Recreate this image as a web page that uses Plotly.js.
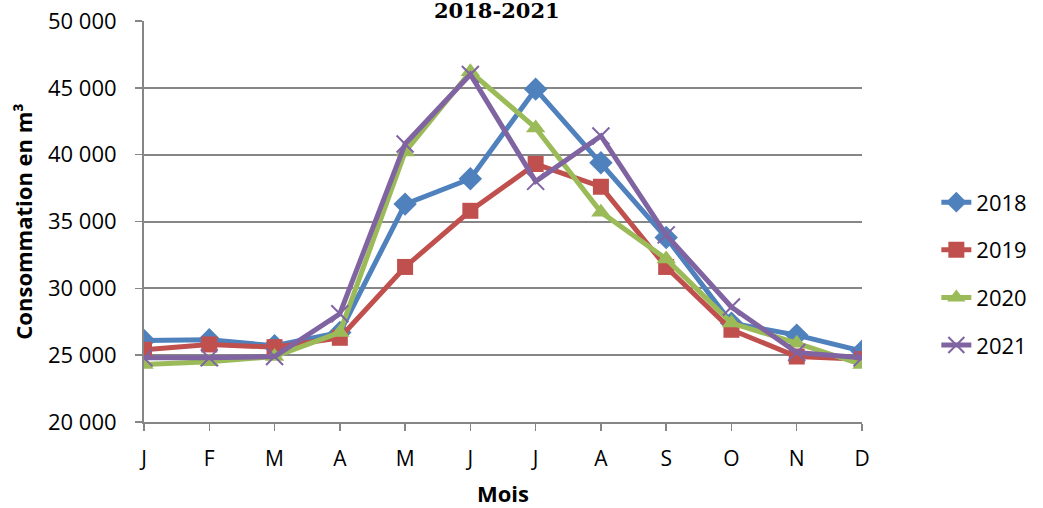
<!DOCTYPE html>
<html><head><meta charset="utf-8">
<script src="https://cdn.plot.ly/plotly-3.0.1.min.js"></script>
<style>html,body{margin:0;padding:0;background:#fff}#chart{width:1043px;height:508px}</style>
</head><body><div id="chart"></div>
<script>
const months = ["J","F","M","A","M","J","J","A","S","O","N","D"];
const monthIdx = [0,1,2,3,4,5,6,7,8,9,10,11];
const years = ["2018","2019","2020","2021"];
const v2018 = [26100,26150,25700,26700,36300,38200,44900,39400,33800,27400,26500,25300];
const v2019 = [25400,25800,25600,26300,31600,35800,39300,37600,31600,26900,24900,24700];
const v2020 = [24300,24500,24900,26700,40200,46200,42000,35700,32200,27400,25900,24300];
const v2021 = [24800,24800,24900,28100,40800,46000,38000,41400,34000,28600,25200,24800];
const yTicks = [20000,25000,30000,35000,40000,45000,50000];
const yTickText = ["20 000","25 000","30 000","35 000","40 000","45 000","50 000"];

const colors = ["#4F81BD","#C0504D","#9BBB59","#8064A2"];
const series = [v2018,v2019,v2020,v2021];
const symbols = ["diamond","square","triangle-up","x-thin"];
const sizes = [18,16,17,17];

const traces = series.map((vals,i)=>({
  x: monthIdx, y: vals, name: years[i], type:"scatter", mode:"lines+markers",
  legendgroup: "g"+i,
  line:{color:colors[i], width:5},
  marker: i===3 ? {symbol:symbols[i], size:sizes[i], color:colors[i], line:{color:colors[i], width:2}}
                : {symbol:symbols[i], size:sizes[i], color:colors[i]}
}));

const FONT = "Open Sans, sans-serif";
const layout = {
  width:1043, height:508,
  margin:{l:144, r:180, t:21, b:86},
  paper_bgcolor:"#fff", plot_bgcolor:"#fff",
  font:{family:FONT, color:"#000"},
  showlegend:true,
  legend:{x:1.102, y:0.6, xanchor:"left", yanchor:"top", font:{size:22, family:FONT}, tracegroupgap:16, bgcolor:"rgba(0,0,0,0)"},
  xaxis:{
    range:[0,11], tickmode:"array", tickvals:monthIdx, ticktext:months,
    showgrid:false, zeroline:false, showline:true, linecolor:"#868686", linewidth:2,
    ticks:"outside", ticklen:7, tickcolor:"#868686", tickwidth:1.5,
    tickfont:{size:21}, ticklabelstandoff:10, fixedrange:true,
    title:{text:"<b>Mois</b>", font:{size:22}, standoff:16}
  },
  yaxis:{
    range:[20000,50000], tickmode:"array", tickvals:yTicks, ticktext:yTickText,
    showgrid:true, gridcolor:"#868686", gridwidth:2, zeroline:false,
    showline:true, linecolor:"#868686", linewidth:2,
    ticks:"outside", ticklen:7, tickcolor:"#868686", tickwidth:1.5,
    tickfont:{size:22}, ticklabelstandoff:14, fixedrange:true,
    title:{text:"<b>Consommation en m³</b>", font:{size:22}, standoff:9}
  },
  annotations:[{
    text:"<b>2018-2021</b>", xref:"paper", yref:"paper", x:0.491, y:1, yshift:-4,
    xanchor:"center", yanchor:"bottom", showarrow:false,
    font:{family:"DejaVu Serif, serif", size:21, color:"#000"}
  }]
};
Plotly.newPlot("chart", traces, layout, {displayModeBar:false, staticPlot:true});
</script></body></html>
